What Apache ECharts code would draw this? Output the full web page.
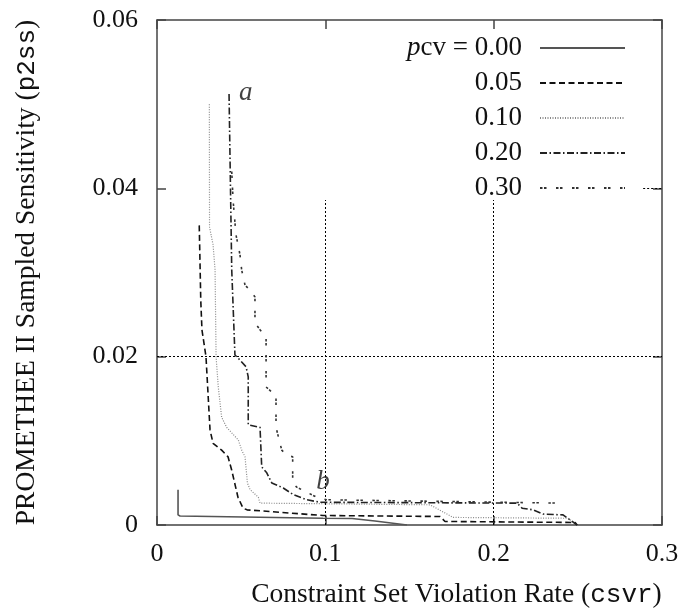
<!DOCTYPE html>
<html>
<head>
<meta charset="utf-8">
<script src="https://cdn.jsdelivr.net/npm/echarts@6/dist/echarts.min.js"></script>
<style>
  html, body { margin: 0; padding: 0; background: #fff; }
  #chart { width: 679px; height: 616px; }
</style>
</head>
<body>
<div id="chart"></div>
<script>
// pcv levels shown in the key
var pcvNames = ['0.00', '0.05', '0.10', '0.20', '0.30'];

// sensitivity (y) against violation rate (x)
var s000 = [[0.0125, 0.0042], [0.0125, 0.0012], [0.0137, 0.00107], [0.0986, 0.0008],
  [0.1159, 0.00077], [0.1295, 0.00048], [0.1485, 0]];
var s005 = [[0.0251, 0.0356], [0.026, 0.0267], [0.0267, 0.0232], [0.0291, 0.0200],
  [0.0315, 0.0113], [0.0333, 0.0097], [0.0384, 0.0089], [0.0422, 0.0081],
  [0.0444, 0.0065], [0.0481, 0.0033], [0.0511, 0.0020], [0.0535, 0.0018],
  [0.0986, 0.00113], [0.1682, 0.00101], [0.1711, 0.00042], [0.2484, 0.0003], [0.2496, 0]];
var s010 = [[0.0311, 0.0500], [0.0312, 0.0354], [0.0333, 0.0333], [0.0345, 0.0303],
  [0.0351, 0.0200], [0.0364, 0.0164], [0.0384, 0.0128], [0.0414, 0.0116],
  [0.0483, 0.0101], [0.0503, 0.0089], [0.0523, 0.0081], [0.0537, 0.0050],
  [0.0553, 0.0042], [0.0602, 0.0033], [0.0612, 0.0026], [0.1622, 0.0024],
  [0.1759, 0.0009], [0.2442, 0.0008], [0.2496, 0]];
var s020 = [[0.0428, 0.0512], [0.0444, 0.0303], [0.0463, 0.0202], [0.0493, 0.0196],
  [0.0529, 0.0188], [0.0542, 0.0176], [0.0542, 0.0119], [0.0612, 0.0116],
  [0.0622, 0.0069], [0.0652, 0.0062], [0.0682, 0.0050], [0.0750, 0.0044],
  [0.0810, 0.0036], [0.0889, 0.0030], [0.0969, 0.0027], [0.2139, 0.0026],
  [0.2169, 0.0020], [0.2234, 0.0018], [0.2294, 0.0013], [0.2412, 0.0012], [0.2496, 0]];
var s030 = [[0.0444, 0.0420], [0.0452, 0.0386], [0.0469, 0.0345], [0.0493, 0.0321],
  [0.0503, 0.0303], [0.0523, 0.0285], [0.0553, 0.0279], [0.0582, 0.0271],
  [0.0582, 0.0240], [0.0612, 0.0232], [0.0648, 0.0223], [0.0648, 0.0164],
  [0.0682, 0.0158], [0.0707, 0.0154], [0.0707, 0.0116], [0.0741, 0.0089],
  [0.0771, 0.0083], [0.0806, 0.0081], [0.0806, 0.0050], [0.0830, 0.0045],
  [0.0889, 0.0039], [0.0949, 0.0033], [0.1008, 0.0030], [0.2395, 0.0026]];
var seriesData = [s000, s005, s010, s020, s030];

// grid segments that are visible (the key box hides the rest)
var gridX = [0.1, 0.2];
var gridXTop = 0.0386;
var gridY = [[0.02, 0, 0.3], [0.04, 0.2888, 0.3]];

// the two letter marks
var notes = [{ name: 'a', value: [0.0527, 0.0513] }, { name: 'b', value: [0.0986, 0.0051] }];

var serif = 'Liberation Serif';
var mono = 'Liberation Mono';
var lineStyles = [
  { color: '#555', width: 1.6, type: 'solid' },
  { color: '#111', width: 1.6, type: [6, 3.5] },
  { color: '#888', width: 1.2, type: [1, 1.5] },
  { color: '#222', width: 1.6, type: [7, 2.5, 1.5, 2.5] },
  { color: '#333', width: 1.6, type: [2.5, 1.5, 2.5, 9.5] }
];

var chart = echarts.init(document.getElementById('chart'));

var gridLines = [];
gridX.forEach(function (x) {
  gridLines.push([{ coord: [x, 0] }, { coord: [x, gridXTop] }]);
});
gridY.forEach(function (g) {
  gridLines.push([{ coord: [g[1], g[0]] }, { coord: [g[2], g[0]] }]);
});

var series = pcvNames.map(function (n, i) {
  var s = {
    name: n,
    type: 'line',
    data: seriesData[i],
    showSymbol: false,
    symbol: 'none',
    lineStyle: lineStyles[i],
    itemStyle: { color: lineStyles[i].color },
    z: 3
  };
  if (i === 0) {
    s.markLine = {
      silent: true,
      symbol: 'none',
      label: { show: false },
      lineStyle: { color: '#000', width: 1, type: [2, 2] },
      data: gridLines,
      z: 1
    };
  }
  return s;
});
series.push({
  name: 'notes',
  type: 'scatter',
  data: notes,
  symbolSize: 0,
  label: {
    show: true, position: 'inside', formatter: '{b}',
    fontFamily: serif, fontStyle: 'italic', fontSize: 27, color: '#111'
  }
});

function axisCommon(extra) {
  var a = {
    type: 'value',
    axisLine: { show: true, onZero: false, lineStyle: { color: '#444', width: 1.5 } },
    axisTick: { show: true, inside: true, length: 9, lineStyle: { color: '#444', width: 1.5 } },
    splitLine: { show: false },
    axisLabel: { show: false }
  };
  for (var k in extra) a[k] = extra[k];
  return a;
}

var option = {
  animation: false,
  backgroundColor: '#fff',
  grid: { left: 157, right: 17, top: 20, bottom: 91, outerBoundsMode: 'none' },
  legend: {
    data: pcvNames,
    orient: 'vertical',
    align: 'right',
    left: 382,
    top: 33,
    padding: 0,
    itemWidth: 85,
    itemHeight: 14,
    itemGap: 5,
    selectedMode: false,
    itemStyle: { opacity: 0 },
    formatter: function (name) {
      return name === '0.00' ? '{i|p}cv = 0.00' : name;
    },
    textStyle: {
      fontFamily: serif, fontSize: 27, color: '#111',
      width: 140, align: 'right', padding: [0, 13, 0, 0], lineHeight: 30,
      rich: { i: { fontFamily: serif, fontStyle: 'italic', fontSize: 27, color: '#111' } }
    }
  },
  xAxis: [
    axisCommon({
      min: 0, max: 0.3, interval: 0.1, position: 'bottom',
      axisLabel: {
        show: true, margin: 16, fontFamily: serif, fontSize: 26, color: '#111',
        formatter: function (v) { return v === 0 ? '0' : v.toFixed(1); }
      },
      name: 'Constraint Set Violation Rate ({m|csvr})',
      nameLocation: 'middle',
      nameGap: 56,
      nameTextStyle: {
        fontFamily: serif, fontSize: 27.5, color: '#111', padding: [0, 0, 0, 94],
        rich: { m: { fontFamily: mono, fontSize: 26, color: '#111' } }
      }
    }),
    axisCommon({ min: 0, max: 0.3, interval: 0.1, position: 'top' })
  ],
  yAxis: [
    axisCommon({
      min: 0, max: 0.06, interval: 0.02, position: 'left',
      axisLabel: {
        show: true, margin: 19, fontFamily: serif, fontSize: 26, color: '#111',
        formatter: function (v) { return v === 0 ? '0' : v.toFixed(2); }
      },
      name: 'PROMETHEE II Sampled Sensitivity ({m|p2ss})',
      nameLocation: 'middle',
      nameRotate: 90,
      nameGap: 116,
      nameTextStyle: {
        fontFamily: serif, fontSize: 27.5, color: '#111',
        rich: { m: { fontFamily: mono, fontSize: 26, color: '#111' } }
      }
    }),
    axisCommon({ min: 0, max: 0.06, interval: 0.02, position: 'right' })
  ],
  series: series
};

chart.setOption(option);
</script>
</body>
</html>
